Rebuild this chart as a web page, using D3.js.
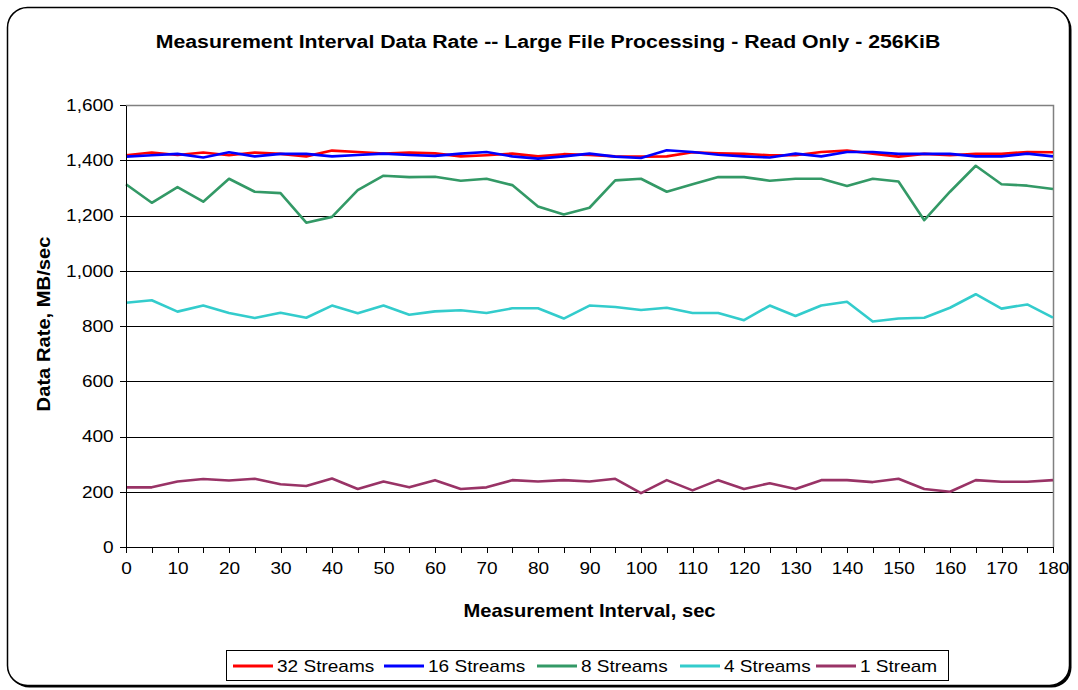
<!DOCTYPE html>
<html>
<head>
<meta charset="utf-8">
<script src="https://cdn.jsdelivr.net/npm/d3@7"></script>
<style>
	body { margin: 0; background: #fff; }
	text { font-family: "Liberation Sans", Arial, sans-serif; fill: #000; }
	.axis path, .axis line { stroke: #000; shape-rendering: crispEdges; }
	.axis text { font-size: 17px; }
</style>
</head>
<body>
<div id="chart"></div>
<script>
/* jshint esversion: 6 */
const svgWidth = 1078, svgHeight = 690;
const margin = {top: 105, right: 25, bottom: 143, left: 126},
			width = 1053 - margin.left,
			height = 547 - margin.top;

// The original text is drawn a little wider than Arial
const stretch = 1.12;

// Measurement interval, sec
const intervals = [0, 5, 10, 15, 20, 25, 30, 35, 40, 45, 50, 55, 60, 65, 70, 75, 80, 85, 90,
			95, 100, 105, 110, 115, 120, 125, 130, 135, 140, 145, 150, 155, 160, 165, 170, 175, 180];

const yTicks = [0, 200, 400, 600, 800, 1000, 1200, 1400, 1600];

const streams32 = [1418, 1428, 1419, 1428, 1418, 1428, 1423, 1414, 1435, 1430, 1424, 1428, 1425,
			1414, 1418, 1424, 1414, 1422, 1419, 1414, 1413, 1414, 1429, 1425, 1423, 1418, 1418, 1430,
			1435, 1424, 1413, 1423, 1418, 1423, 1423, 1430, 1429];
const streams16 = [1413, 1418, 1423, 1410, 1429, 1414, 1423, 1423, 1414, 1419, 1424, 1419, 1416,
			1424, 1430, 1414, 1406, 1414, 1424, 1413, 1408, 1436, 1430, 1420, 1414, 1410, 1424, 1414,
			1430, 1430, 1423, 1423, 1423, 1414, 1414, 1424, 1414];
const streams8 = [1313, 1246, 1303, 1250, 1333, 1286, 1281, 1174, 1195, 1292, 1344, 1339, 1340,
			1326, 1333, 1310, 1233, 1204, 1228, 1327, 1333, 1286, 1313, 1339, 1339, 1326, 1333, 1333,
			1307, 1333, 1323, 1183, 1286, 1380, 1313, 1308, 1296];
const streams4 = [884, 893, 852, 874, 847, 829, 848, 830, 874, 846, 874, 841, 853, 857, 847, 864,
			864, 827, 874, 869, 858, 866, 847, 847, 821, 874, 836, 874, 888, 816, 827, 830, 866, 915,
			863, 878, 830];
const streams1 = [216, 216, 237, 246, 241, 247, 227, 221, 248, 210, 237, 216, 242, 210, 216, 242,
			237, 242, 237, 247, 195, 242, 205, 242, 210, 231, 210, 242, 242, 235, 247, 210, 200, 242,
			236, 236, 242];

const seriesNames = ["32 Streams", "16 Streams", "8 Streams", "4 Streams", "1 Stream"];
const seriesValues = [streams32, streams16, streams8, streams4, streams1];

const color = d3.scaleOrdinal()
		.domain(seriesNames)
		.range(["#ff0000", "#0000ff", "#339966", "#33cccc", "#993366"]);

const svg = d3.select("#chart")
	.append("svg")
		.attr("width", svgWidth)
		.attr("height", svgHeight);

// Outer rounded frame with a small shadow
svg.append("rect")
		.attr("x", 9.5)
		.attr("y", 9.5)
		.attr("width", 1062)
		.attr("height", 678)
		.attr("rx", 20)
		.attr("fill", "#000");

svg.append("rect")
		.attr("x", 7.5)
		.attr("y", 7.5)
		.attr("width", 1062)
		.attr("height", 678)
		.attr("rx", 20)
		.attr("fill", "#fff")
		.attr("stroke", "#000")
		.attr("stroke-width", 1.5);

svg.append("text")
		.attr("transform", `translate(548, 48) scale(${stretch}, 1)`)
		.style("text-anchor", "middle")
		.style("font-size", "19px")
		.style("font-weight", "bold")
		.text("Measurement Interval Data Rate -- Large File Processing - Read Only - 256KiB");

const g = svg.append("g")
		.attr("transform", `translate(${margin.left}, ${margin.top})`);

const x = d3.scaleLinear()
		.domain([0, 180])
		.range([0, width]);

const y = d3.scaleLinear()
		.domain([0, 1600])
		.range([height, 0]);

// Gridlines
g.selectAll(".grid")
	.data(yTicks.filter(d => d > 0 && d < 1600))
	.enter()
	.append("line")
		.attr("class", "grid")
		.attr("x1", 0)
		.attr("x2", width)
		.attr("y1", d => Math.round(y(d)) + 0.5)
		.attr("y2", d => Math.round(y(d)) + 0.5)
		.attr("stroke", "#000")
		.attr("stroke-width", 1);

// Top and right border of the plot area
g.append("path")
		.attr("d", `M0,0.5H${width + 0.5}V${height}`)
		.attr("fill", "none")
		.attr("stroke", "#808080")
		.attr("stroke-width", 1.5);

const line = d3.line()
		.x((d, i) => x(intervals[i]))
		.y(d => y(d));

g.selectAll(".series")
	.data(seriesNames)
	.enter()
	.append("path")
		.attr("class", "series")
		.attr("fill", "none")
		.attr("stroke", d => color(d))
		.attr("stroke-width", 2.6)
		.attr("stroke-linejoin", "round")
		.attr("d", (d, i) => line(seriesValues[i]));

g.append("g")
		.attr("class", "axis")
		.attr("transform", `translate(0, ${height})`)
		.call(d3.axisBottom(x)
			.tickValues(intervals)
			.tickSize(6)
			.tickSizeOuter(0)
			.tickFormat(d => d % 10 === 0 ? d : ""))
		.call(a => a.selectAll("text")
			.attr("dy", "1.05em")
			.attr("transform", `scale(${stretch}, 1)`));

g.append("g")
		.attr("class", "axis")
		.call(d3.axisLeft(y)
			.tickValues(yTicks)
			.tickSize(6)
			.tickSizeOuter(0)
			.tickPadding(5)
			.tickFormat(d3.format(",")))
		.call(a => a.selectAll("text").attr("transform", `scale(${stretch}, 1)`));

g.selectAll(".axis .domain").attr("stroke-width", 1.5);

svg.append("text")
		.attr("transform", `translate(${margin.left + width / 2}, 617) scale(${stretch}, 1)`)
		.style("text-anchor", "middle")
		.style("font-size", "18px")
		.style("font-weight", "bold")
		.text("Measurement Interval, sec");

svg.append("text")
		.attr("transform", `translate(50, 324) rotate(-90) scale(${stretch}, 1)`)
		.style("text-anchor", "middle")
		.style("font-size", "18px")
		.style("font-weight", "bold")
		.text("Data Rate, MB/sec");

// Legend
const legendX = [233, 384, 537, 680, 816];

const legend = svg.append("g");

legend.append("rect")
		.attr("x", 226.5)
		.attr("y", 650.5)
		.attr("width", 722)
		.attr("height", 30)
		.attr("fill", "#fff")
		.attr("stroke", "#000")
		.attr("stroke-width", 1);

const items = legend.selectAll(".legend-item")
	.data(seriesNames)
	.enter()
	.append("g")
		.attr("class", "legend-item")
		.attr("transform", (d, i) => `translate(${legendX[i]}, 666)`);

items.append("line")
		.attr("x1", 0)
		.attr("x2", 40)
		.attr("stroke", d => color(d))
		.attr("stroke-width", 3);

items.append("text")
		.attr("transform", `translate(44, 0) scale(${stretch}, 1)`)
		.attr("dy", "0.35em")
		.style("font-size", "17px")
		.text(d => d);
</script>
</body>
</html>
